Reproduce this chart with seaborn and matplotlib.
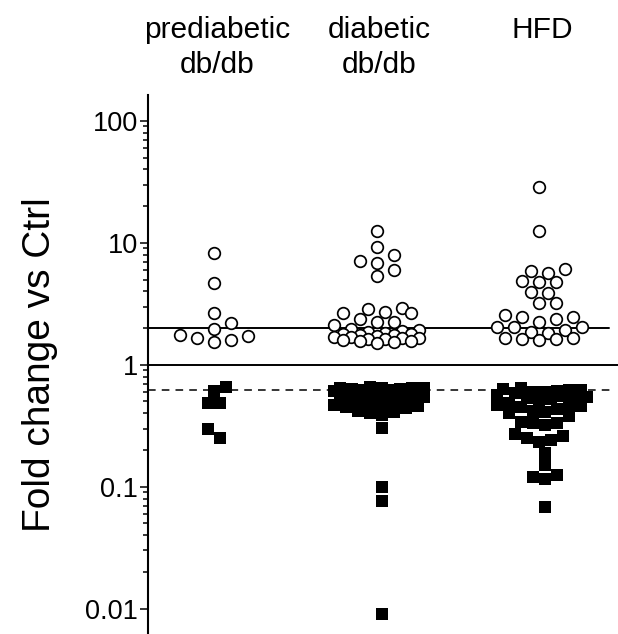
import matplotlib

matplotlib.use("Agg")
import matplotlib.pyplot as plt
from matplotlib.ticker import FixedLocator, NullFormatter
from matplotlib.transforms import blended_transform_factory
import numpy as np
import pandas as pd
import seaborn as sns


GROUPS = ["prediabetic\ndb/db", "diabetic\ndb/db", "HFD"]

PRE_UP = [8.2, 4.7, 2.67, 2.2, 1.97, 1.77, 1.73, 1.66, 1.60, 1.55]
PRE_DOWN = [0.66, 0.61, 0.49, 0.49, 0.30, 0.25]

DIA_UP = [12.5, 9.3, 7.95, 7.1, 6.8, 6.0, 5.3, 2.93, 2.88, 2.7, 2.65, 2.65,
          2.37, 2.26, 2.24, 2.13, 1.96, 1.92, 1.88, 1.85, 1.82, 1.80, 1.78,
          1.76, 1.74, 1.72, 1.70, 1.68, 1.67, 1.65, 1.63, 1.62, 1.60, 1.58,
          1.56, 1.54, 1.52]
DIA_DOWN = [0.66, 0.65, 0.65, 0.64, 0.64, 0.63, 0.63, 0.62, 0.62, 0.61, 0.61,
            0.60, 0.60, 0.59, 0.58, 0.57, 0.56, 0.56, 0.55, 0.54, 0.53, 0.52,
            0.51, 0.50, 0.49, 0.48, 0.47, 0.46, 0.45, 0.44, 0.42, 0.41, 0.40,
            0.39, 0.305, 0.099, 0.076, 0.0091]

HFD_UP = [28.6, 12.5, 6.1, 5.9, 5.7, 4.9, 4.77, 4.77, 3.97, 3.87, 3.24, 3.24,
          2.57, 2.46, 2.46, 2.38, 2.24, 2.04, 2.04, 2.04, 1.94, 1.84, 1.83,
          1.66, 1.65, 1.63, 1.62, 1.60]
HFD_DOWN = [0.64, 0.63, 0.62, 0.62, 0.61, 0.60, 0.60, 0.59, 0.57, 0.56, 0.55,
            0.54, 0.53, 0.52, 0.51, 0.49, 0.48, 0.47, 0.46, 0.45, 0.43, 0.42,
            0.41, 0.40, 0.38, 0.34, 0.33, 0.33, 0.32, 0.27, 0.26, 0.25, 0.24,
            0.234, 0.19, 0.151, 0.125, 0.12, 0.115, 0.068]

UP_CUTOFF = 2.0
BASELINE = 1.0
DOWN_CUTOFF = 0.62

Y_TICKS = [0.01, 0.1, 1, 10, 100]
Y_TICK_LABELS = ["0.01", "0.1", "1", "10", "100"]


def column_offsets(ax, group_index, values, diameter_px, step_px, cap_px):
    """GraphPad-like column scatter: slot points sideways until they stop colliding."""
    values = np.asarray(values, dtype=float)
    to_px = ax.transData.transform
    y_px = to_px(np.column_stack([np.full(len(values), group_index), values]))[:, 1]
    x0 = to_px([[group_index, 1.0]])[0, 0]
    unit_px = to_px([[group_index + 1, 1.0]])[0, 0] - x0

    candidates = np.arange(-cap_px, cap_px + 0.01, step_px / 2.0)
    candidates = sorted(candidates, key=lambda c: (abs(c), -c))

    placed_x: list[float] = []
    placed_y: list[float] = []
    offsets = np.zeros(len(values))
    for i in np.argsort(values):
        best, best_gap = 0.0, -np.inf
        for cand in candidates:
            if placed_x:
                gap = np.min(np.hypot(np.array(placed_x) - cand, np.array(placed_y) - y_px[i]))
            else:
                gap = np.inf
            if gap >= diameter_px:
                best = cand
                break
            if gap > best_gap:
                best, best_gap = cand, gap
        offsets[i] = best
        placed_x.append(best)
        placed_y.append(y_px[i])
    return group_index + offsets / unit_px


sns.set_theme(style="ticks")
plt.rcParams["font.family"] = ["Liberation Sans", "DejaVu Sans"]
plt.rcParams["text.color"] = "black"
plt.rcParams["axes.labelcolor"] = "black"
plt.rcParams["ytick.color"] = "black"

fig = plt.figure(figsize=(6.18, 6.34), dpi=100)
ax = fig.add_axes([148 / 618, 0.0, 1 - 148 / 618, 1 - 95 / 634])
ax.set_yscale("log")
ax.set_xlim(-0.4246, 2.468)
ax.set_ylim(0.0062, 163)

ups = [PRE_UP, DIA_UP, HFD_UP]
downs = [PRE_DOWN, DIA_DOWN, HFD_DOWN]
frames = []
for gi, (up, down) in enumerate(zip(ups, downs)):
    frames.append(pd.DataFrame({
        "x": column_offsets(ax, gi, up, 12.5, 17.0, 45.0),
        "fold": up, "direction": "up"}))
    frames.append(pd.DataFrame({
        "x": column_offsets(ax, gi, down, 12.0, 12.0, 45.0),
        "fold": down, "direction": "down"}))
points = pd.concat(frames, ignore_index=True)

sns.scatterplot(data=points[points["direction"] == "down"], x="x", y="fold",
                marker="s", s=74, color="black", edgecolor="black",
                linewidth=0, ax=ax, zorder=3)
sns.scatterplot(data=points[points["direction"] == "up"], x="x", y="fold",
                marker="o", s=70, facecolor="white", edgecolor="black",
                linewidth=1.25, ax=ax, zorder=4)

ax.axhline(UP_CUTOFF, xmax=0.98, color="black", lw=1.4, zorder=2)
ax.axhline(BASELINE, color="black", lw=1.4, zorder=2)
ax.axhline(DOWN_CUTOFF, xmax=0.985, color="black", lw=1.1, ls=(0, (5, 4)), zorder=2)

ax.set_yticks(Y_TICKS, labels=Y_TICK_LABELS, fontsize=19.5)
minor = [k * 10.0 ** e for e in range(-2, 2) for k in range(2, 10)]
ax.yaxis.set_minor_locator(FixedLocator(minor))
ax.yaxis.set_minor_formatter(NullFormatter())
ax.tick_params(axis="y", which="major", length=6, width=1.1, pad=1)
ax.tick_params(axis="y", which="minor", length=3.8, width=1.1)
ax.set_xticks([])
ax.set_xlabel("")
ax.set_ylabel("Fold change vs Ctrl", fontsize=28, labelpad=20)

for side in ["top", "right", "bottom"]:
    ax.spines[side].set_visible(False)
ax.spines["left"].set_linewidth(1.5)
ax.spines["left"].set_color("black")

label_tf = blended_transform_factory(ax.transData, fig.transFigure)
for gi, name in enumerate(GROUPS):
    ax.text(gi, 1 - 16 / 634, name, transform=label_tf, ha="center", va="top",
            fontsize=21.5, linespacing=1.3)

fig.savefig("out.png", dpi=100)
plt.close(fig)
